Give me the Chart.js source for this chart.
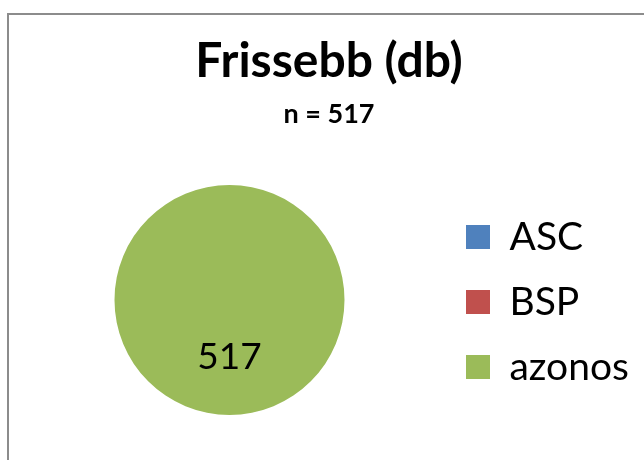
<!DOCTYPE html>
<html>
<head>
<meta charset="utf-8">
<script src="https://cdn.jsdelivr.net/npm/chart.js@4.4.1/dist/chart.umd.min.js"></script>
<style>
  html, body { margin: 0; padding: 0; background: #ffffff; overflow: hidden; width: 644px; height: 460px; }
  #frame { position: absolute; left: 7px; top: 13px; width: 700px; height: 500px;
           border-left: 2px solid #8c8c8c; border-top: 2px solid #8c8c8c; background: #fff; }
  #wrap { position: absolute; left: 0; top: 0; width: 634px; height: 445px; }
</style>
</head>
<body>
<div id="frame"><div id="wrap"><canvas id="c"></canvas></div></div>
<script>
const categories = ["ASC", "BSP", "azonos"];
const values = [0, 0, 517];
const colors = ["#4F81BD", "#C0504D", "#9BBB59"];
const titleText = "Frissebb (db)";
const subtitleText = "n = 517";

const FONT = "Lato, 'Open Sans', sans-serif";

const valueLabels = {
  id: 'valueLabels',
  afterDatasetsDraw(chart) {
    const ctx = chart.ctx;
    const meta = chart.getDatasetMeta(0);
    ctx.save();
    ctx.font = "37px " + FONT;
    ctx.fillStyle = "#000000";
    ctx.textAlign = "center";
    ctx.textBaseline = "middle";
    meta.data.forEach((arc, i) => {
      const v = chart.data.datasets[0].data[i];
      if (!v) return;
      const p = arc.tooltipPosition();
      ctx.fillText(String(v), p.x, p.y);
    });
    ctx.restore();
  }
};

new Chart(document.getElementById('c'), {
  type: 'pie',
  data: {
    labels: categories,
    datasets: [{
      data: values,
      backgroundColor: colors,
      borderWidth: 0,
      hoverOffset: 0
    }]
  },
  options: {
    responsive: true,
    maintainAspectRatio: false,
    animation: false,
    events: [],
    layout: { padding: { top: 0, left: 10, right: 4, bottom: 45 } },
    plugins: {
      title: {
        display: true,
        text: titleText,
        color: "#000000",
        font: { family: FONT, size: 48, weight: 'bold', lineHeight: 1.2 },
        padding: { top: 18.2, bottom: 0 }
      },
      subtitle: {
        display: true,
        text: subtitleText,
        color: "#000000",
        font: { family: FONT, size: 27, weight: 'bold', lineHeight: 1.2 },
        padding: { top: 7, bottom: 54.8 }
      },
      legend: {
        display: true,
        position: 'right',
        align: 'center',
        title: {
          display: true,
          text: '',
          font: { family: FONT, size: 10, lineHeight: 1 },
          padding: { top: 164, bottom: 0 }
        },
        labels: {
          color: "#000000",
          font: { family: FONT, size: 39 },
          boxWidth: 24,
          boxHeight: 24,
          padding: 26
        }
      },
      tooltip: { enabled: false }
    }
  },
  plugins: [valueLabels]
});
</script>
</body>
</html>
